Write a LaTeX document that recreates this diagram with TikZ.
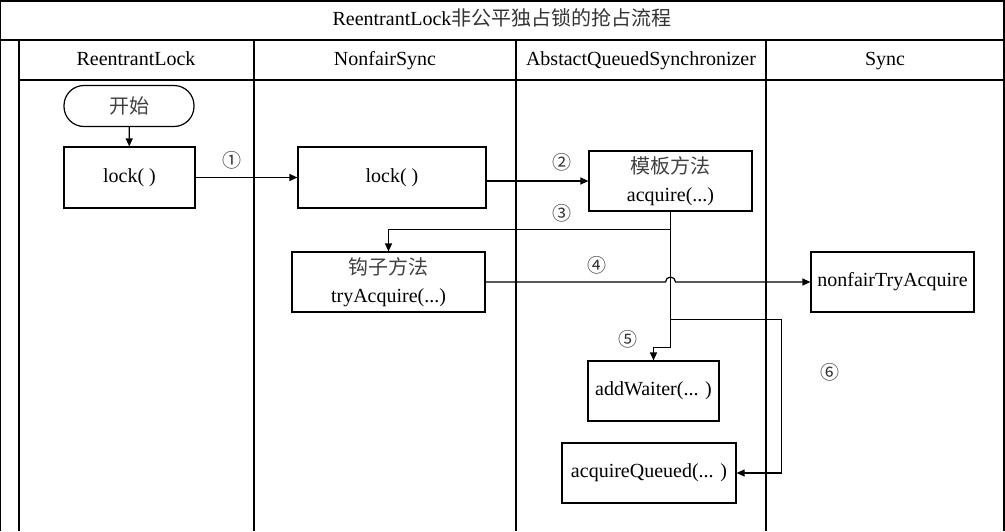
\documentclass[tikz,border=0pt]{standalone}
\usepackage{fontspec}
\setmainfont{Liberation Serif}
\newfontfamily\cjk{Noto Sans CJK SC}
\usetikzlibrary{arrows.meta,calc}

\begin{document}
\begin{tikzpicture}[x=0.5pt,y=-0.5pt,
  font=\fontsize{10}{14}\selectfont,
  lane/.style={line width=0.6pt},
  head/.style={text height=1.6ex,text depth=0.4ex},
  zh/.style={font=\cjk\fontsize{10}{14}\selectfont,text=black!75},
  box/.style={draw,line width=0.6pt,minimum height=30.5pt,inner sep=0pt,align=center},
  arr/.style={line width=0.6pt,-{Triangle[length=4pt,width=3.5pt]}},
  num/.style={font=\cjk\fontsize{9.5}{12}\selectfont,text=black!80}]
\useasboundingbox (0,0) rectangle (1005,531);
% frame and lanes
\draw[lane] (0,531) -- (0,1) -- (1004,1) -- (1004,531);
\draw[lane] (0,40) -- (1004,40);
\draw[lane] (19,80) -- (1004,80);
\foreach \x in {19,254,516,766} \draw[lane] (\x,40) -- (\x,531);
\node[head] (title) at (502,20) {ReentrantLock{\cjk\color{black!80}非公平独占锁的抢占流程}};
\node[head] (h1) at (136,60) {ReentrantLock};
\node[head] (h2) at (385,60) {NonfairSync};
\node[head] (h3) at (641,60) {AbstactQueuedSynchronizer};
\node[head] (h4) at (885,60) {Sync};
% steps
\node[box,zh,rounded corners=10pt,minimum width=65pt,minimum height=20.5pt] (start) at (129,106) {开始};
\node[box,minimum width=65.5pt] (lk1) at (129.5,177.5) {lock( )};
\node[box,minimum width=94pt] (lk2) at (392,177.5) {lock( )};
\node[box,minimum width=81.5pt,minimum height=30pt] (tmpl) at (670.5,181) {{\cjk\color{black!75}模板方法}\\acquire(...)};
\node[box,minimum width=96.5pt,minimum height=30pt] (hook) at (388.5,282) {{\cjk\color{black!75}钩子方法}\\tryAcquire(...)};
\node[box,minimum width=81.5pt,minimum height=30pt] (nft) at (892.5,282) {nonfairTryAcquire};
\node[box,minimum width=65.5pt,minimum height=30pt] (addw) at (653.5,391) {addWaiter(... )};
\node[box,minimum width=87pt,minimum height=30pt] (acqq) at (649,473) {acquireQueued(... )};
% numbers
\node[num] (n1) at (232,160) {①};
\node[num] (n2) at (562,162) {②};
\node[num] (n3) at (562,213) {③};
\node[num] (n4) at (597,265) {④};
\node[num] (n5) at (628,339) {⑤};
\node[num] (n6) at (830,372) {⑥};
% flow
\draw[arr] (start) -- (lk1);
\draw[arr] (lk1) -- (lk2);
\draw[arr] (tmpl.west -| lk2.east) -- (tmpl.west);
\draw[arr] (tmpl.south) -- ++(0,18) -| (hook.north);
\draw[arr] (tmpl.south) -- ($(tmpl.south |- addw.north)+(0,-13)$) -| (addw.north);
\coordinate (br) at ($(tmpl.south)+(0,108)$);
\draw[arr] (br) -- ++(111,0) |- (acqq.east);
\draw[arr] (hook.east) -- ($(hook.east -| tmpl.south)+(-5,0)$) arc[start angle=180,end angle=360,radius=5] -- (nft.west);
\end{tikzpicture}
\end{document}
